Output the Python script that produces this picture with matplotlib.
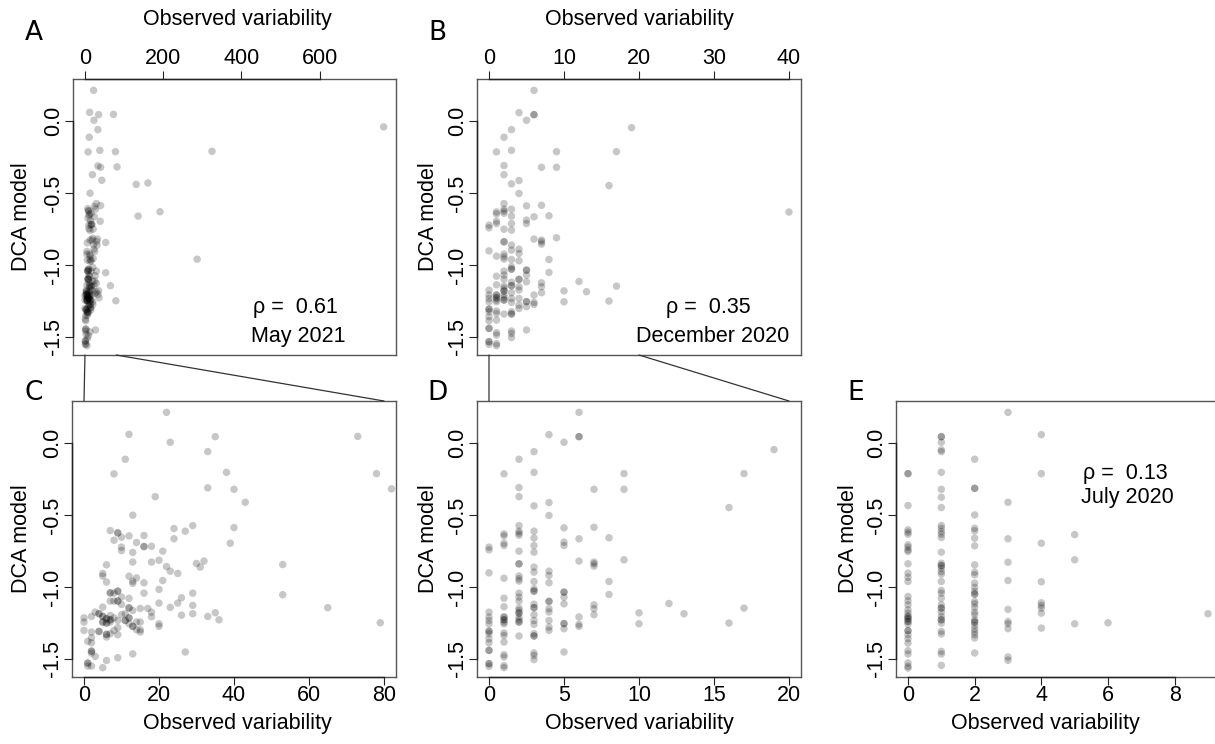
import matplotlib
matplotlib.use("Agg")
import matplotlib.pyplot as plt
from matplotlib.patches import ConnectionPatch

plt.rcParams['font.family'] = ['Liberation Sans', 'DejaVu Sans']

# ---------------- data ----------------
# May 2021 (panels A and C)
may_x = [22, 12, 23, 35, 33, 73, 11, 8, 38, 78, 33, 40, 82, 19, 43, 13, 24, 29, 27, 40,
         24, 39, 53, 53, 65, 79, 27, 32, 30, 31, 21, 20, 22, 23, 25, 21, 20, 20, 23, 25,
         26, 29, 29, 26, 29, 33, 35, 36, 20, 20,
         7, 9, 9, 10, 12, 16, 8, 10, 10, 14, 16, 16, 18, 13, 18, 13, 6, 5, 5, 6,
         12, 14, 13, 13, 16, 16,
         7, 7, 8, 9, 9, 7, 8, 9, 9, 10, 12, 10, 12, 12, 13, 15, 17, 18, 18, 5,
         3, 2, 0, 0, 4, 4, 5, 5, 6, 6, 7, 7, 5, 5, 6, 6, 7, 8, 9, 9,
         8, 11, 11, 12, 12, 12, 13, 13, 14, 15, 14, 15, 15, 11, 10, 7, 0, 2, 4, 4,
         6, 6, 7, 9, 6, 2, 1, 2, 2, 2, 2, 3, 6, 9, 13, 1, 1, 1, 2, 5,
         131, 161, 136, 192, 287, 325, 764]
may_y = [0.214, 0.061, 0.006, 0.045, -0.059, 0.047, -0.112, -0.214, -0.203, -0.212,
         -0.311, -0.321, -0.318, -0.372, -0.411, -0.501, -0.594, -0.573, -0.612, -0.587,
         -0.665, -0.696, -0.844, -1.054, -1.144, -1.249, -1.452, -0.820, -0.837, -0.862,
         -0.751, -0.814, -0.858, -0.890, -0.906, -0.955, -1.017, -1.112, -1.142, -1.112,
         -1.075, -1.043, -1.128, -1.196, -1.186, -1.205, -1.179, -1.228, -1.256, -1.274,
         -0.608, -0.624, -0.624, -0.654, -0.645, -0.642, -0.675, -0.723, -0.747, -0.691,
         -0.719, -0.719, -0.717, -0.760, -0.827, -0.827, -0.846, -0.906, -0.924, -0.966,
         -0.925, -0.937, -0.960, -0.975, -0.971, -1.043,
         -1.041, -1.041, -1.043, -1.029, -1.029, -1.098, -1.098, -1.098, -1.098, -1.070,
         -1.079, -1.122, -1.145, -1.145, -1.163, -1.149, -1.149, -1.175, -1.207, -1.140,
         -1.175, -1.205, -1.215, -1.244, -1.186, -1.186, -1.205, -1.205, -1.221, -1.221,
         -1.228, -1.228, -1.244, -1.244, -1.251, -1.251, -1.244, -1.215, -1.233, -1.283,
         -1.302, -1.233, -1.233, -1.215, -1.215, -1.256, -1.274, -1.274, -1.244, -1.244,
         -1.297, -1.297, -1.313, -1.186, -1.193, -1.198, -1.302, -1.313, -1.309, -1.309,
         -1.330, -1.330, -1.325, -1.332, -1.348, -1.353, -1.378, -1.388, -1.446, -1.446,
         -1.460, -1.483, -1.511, -1.492, -1.465, -1.529, -1.529, -1.550, -1.550, -1.561,
         -0.44, -0.43, -0.66, -0.63, -0.96, -0.21, -0.04]

# December 2020 (panels B and D): DCA model values grouped by observed variability
dec_cols = {
    0: [-0.723, -0.742, -0.902, -1.175, -1.209, -1.233, -1.256, -1.307, -1.307, -1.325,
        -1.360, -1.388, -1.441, -1.441, -1.533, -1.533, -1.552],
    1: [-0.214, -0.631, -0.645, -0.696, -0.712, -0.939, -1.078, -1.138, -1.209, -1.209,
        -1.228, -1.228, -1.244, -1.256, -1.320, -1.337, -1.383, -1.471, -1.487, -1.547, -1.561],
    2: [-0.112, -0.309, -0.372, -0.573, -0.612, -0.626, -0.640, -0.751, -0.839, -0.839,
        -0.924, -0.943, -0.959, -1.043, -1.070, -1.098, -1.147, -1.163, -1.181, -1.181,
        -1.209, -1.228, -1.244, -1.244, -1.341],
    3: [-0.059, -0.203, -0.436, -0.612, -0.660, -0.712, -0.758, -0.862, -0.897, -0.962,
        -1.012, -1.029, -1.029, -1.120, -1.144, -1.144, -1.193, -1.233, -1.260, -1.325,
        -1.341, -1.341, -1.459, -1.476, -1.505],
    4: [0.059, -0.413, -0.503, -0.890, -0.920, -0.971, -1.100, -1.100, -1.151, -1.174,
        -1.233, -1.279, -1.302],
    5: [0.006, -0.589, -0.688, -0.712, -1.036, -1.036, -1.070, -1.117, -1.255, -1.255,
        -1.290, -1.452],
    6: [0.214, 0.045, 0.045, -0.665, -0.820, -1.209, -1.260, -1.274],
    7: [-0.321, -0.585, -0.827, -0.839, -0.855, -1.124, -1.151, -1.193],
    8: [-0.658, -0.962, -1.052],
    9: [-0.212, -0.321, -0.811],
    10: [-1.180, -1.256],
    12: [-1.115],
    13: [-1.186],
    16: [-0.448, -1.251],
    17: [-0.212, -1.147],
    19: [-0.045],
    40: [-0.632],
}

# July 2020 (panel E)
jul_cols = {
    0: [-0.212, -0.212, -0.434, -0.603, -0.619, -0.633, -0.707, -0.723, -0.742, -0.753,
        -0.839, -0.904, -0.932, -0.962, -1.066, -1.096, -1.124, -1.159, -1.182, -1.205,
        -1.205, -1.221, -1.221, -1.240, -1.240, -1.258, -1.304, -1.304, -1.332, -1.360,
        -1.390, -1.443, -1.466, -1.528, -1.552, -1.564],
    1: [0.045, 0.045, 0.006, -0.047, -0.059, -0.203, -0.321, -0.376, -0.448, -0.573,
        -0.592, -0.615, -0.633, -0.656, -0.758, -0.835, -0.851, -0.851, -0.870, -0.893,
        -0.911, -0.962, -1.024, -1.043, -1.078, -1.124, -1.147, -1.147, -1.175, -1.205,
        -1.228, -1.228, -1.251, -1.309, -1.327, -1.448, -1.466, -1.545],
    2: [-0.112, -0.314, -0.314, -0.499, -0.592, -0.610, -0.661, -0.714, -0.846, -0.897,
        -0.915, -0.973, -1.003, -1.031, -1.050, -1.050, -1.101, -1.117, -1.142, -1.175,
        -1.193, -1.228, -1.244, -1.244, -1.267, -1.293, -1.313, -1.332, -1.355, -1.459],
    3: [0.214, -0.411, -0.665, -0.828, -0.955, -1.156, -1.240, -1.256, -1.290, -1.487, -1.510],
    4: [0.059, -0.212, -0.696, -0.964, -1.110, -1.128, -1.147, -1.182, -1.286],
    5: [-0.636, -0.811, -1.256],
    6: [-1.249],
    9: [-1.186],
}

dec_x = [k for k, v in dec_cols.items() for _ in v]
dec_y = [y for v in dec_cols.values() for y in v]
jul_x = [k for k, v in jul_cols.items() for _ in v]
jul_y = [y for v in jul_cols.values() for y in v]

y_ticks = [-1.5, -1.0, -0.5, 0.0]
y_tick_labels = ["-1.5", "-1.0", "-0.5", "0.0"]

# ---------------- layout ----------------
W, H = 1215, 744
fig = plt.figure(figsize=(W / 100, H / 100), dpi=100)

def rect(l, t, r, b):
    return [l / W, 1 - b / H, (r - l) / W, (b - t) / H]

FS = 15.5
YLIM = (-1.626, 0.293)
BOX = '#555555'
AXC = '#222222'
PT_COLOR = (0, 0, 0, 0.22)

def make_panel(r, x, y, xlim, xticks, top):
    ax = fig.add_axes(rect(*r))
    ax.scatter(x, y, s=29, c=[PT_COLOR], edgecolors='none', zorder=3)
    ax.set_xlim(xlim)
    ax.set_ylim(YLIM)
    ax.set_xticks(xticks)
    ax.set_xticklabels([str(t) for t in xticks])
    ax.set_yticks(y_ticks)
    ax.set_yticklabels(y_tick_labels)
    for s in ax.spines.values():
        s.set_color(BOX)
        s.set_linewidth(1.0)
    ax.tick_params(axis='both', direction='out', length=5.5, width=0.8, color=AXC,
                   labelsize=FS, labelcolor='black')
    ax.tick_params(axis='y', pad=1, labelrotation=90)
    for lab in ax.get_yticklabels():
        lab.set_va('center')
    if top:
        ax.xaxis.tick_top()
        ax.tick_params(axis='x', pad=2)
        yax = 1
    else:
        ax.tick_params(axis='x', pad=0)
        yax = 0
    # R-style axis lines from first to last tick
    ax.plot([xticks[0], xticks[-1]], [yax, yax], transform=ax.get_xaxis_transform(),
            color=AXC, lw=1.0, clip_on=False, zorder=5)
    ax.plot([0, 0], [y_ticks[0], y_ticks[-1]], transform=ax.get_yaxis_transform(),
            color=AXC, lw=1.0, clip_on=False, zorder=5)
    return ax

axA = make_panel((73, 79, 396, 355), may_x, may_y, (-30.6, 795.6), [0, 200, 400, 600], True)
axB = make_panel((477, 79, 801, 355), dec_x, dec_y, (-1.6, 41.6), [0, 10, 20, 30, 40], True)
axC = make_panel((72, 401, 396, 677), may_x, may_y, (-3.2, 83.2), [0, 20, 40, 60, 80], False)
axD = make_panel((477, 401, 801, 677), dec_x, dec_y, (-0.8, 20.8), [0, 5, 10, 15, 20], False)
axE = make_panel((896, 401, 1220, 677), jul_x, jul_y, (-0.36, 9.36), [0, 2, 4, 6, 8], False)

# zoom connector lines
for a, c, x0, x1 in [(axA, axC, 0, 80), (axB, axD, 0, 20)]:
    for xv in (x0, x1):
        con = ConnectionPatch(xyA=(xv, YLIM[0]), coordsA=a.transData,
                              xyB=(xv, YLIM[1]), coordsB=c.transData,
                              color='#333333', lw=0.9)
        fig.add_artist(con)

def ftext(x, y, s, **kw):
    fig.text(x / W, 1 - y / H, s, ha='center', va='center', **kw)

# axis titles
for cx in (237, 639):
    ftext(cx, 20, "Observed variability", fontsize=FS)
for cx in (237, 639, 1045):
    ftext(cx, 723, "Observed variability", fontsize=FS)
for cx, cy in [(22, 217), (428, 217), (22, 539), (428, 539), (848, 539)]:
    ftext(cx, cy, "DCA model", fontsize=FS, rotation=90)

# panel letters
for s, cx, cy in [("A", 34, 33), ("B", 437, 33), ("C", 34, 393), ("D", 437, 393), ("E", 856, 393)]:
    ftext(cx, cy, s, fontsize=19, family='DejaVu Sans')

# statistics
ftext(295, 307, "ρ =  0.61", fontsize=FS)
ftext(298, 337, "May 2021", fontsize=FS)
ftext(708, 307, "ρ =  0.35", fontsize=FS)
ftext(713, 337, "December 2020", fontsize=FS)
ftext(1125, 473, "ρ =  0.13", fontsize=FS)
ftext(1127, 498, "July 2020", fontsize=FS)

fig.savefig("out.png", dpi=100)
